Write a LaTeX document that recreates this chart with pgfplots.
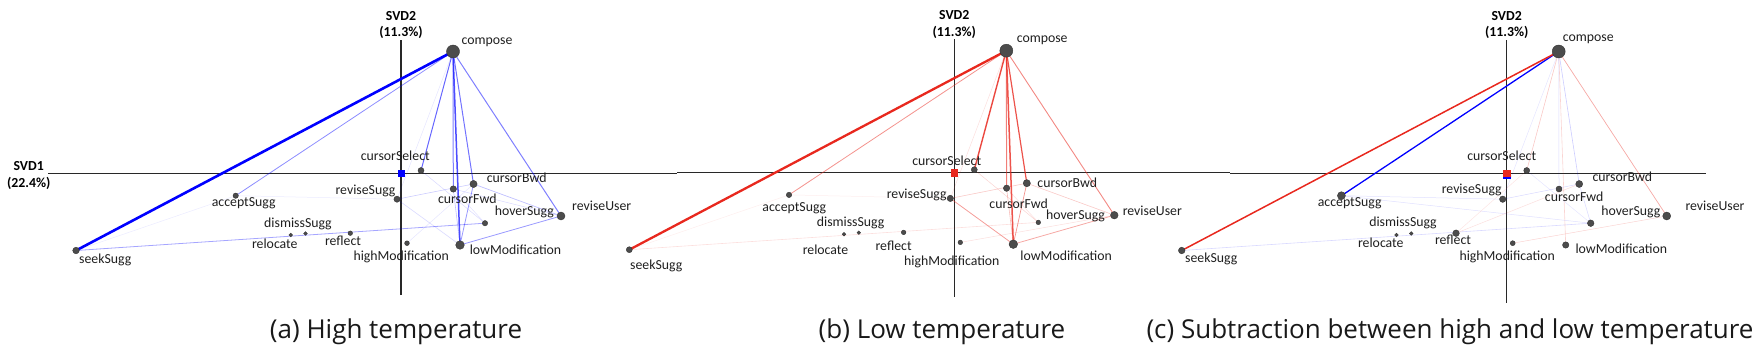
\documentclass[border=0pt]{standalone}
\usepackage{pgfplots}
\pgfplotsset{compat=1.18}
\usepackage{fontspec}
\setmainfont{Carlito}
\newfontfamily\capfont{Open Sans}
\definecolor{eblue}{RGB}{0,0,255}
\definecolor{ered}{RGB}{232,40,30}
\definecolor{dotfill}{RGB}{76,76,76}
\definecolor{dotedge}{RGB}{52,52,52}
\definecolor{axcol}{RGB}{40,40,40}

\pgfplotsset{
 panel/.style={hide axis, x=1pt, y=1pt, clip=false, anchor=south west},
 axl/.style={axcol, line width=1.2pt},
 pdot/.style={only marks, mark=*, mark size=#1, mark options={draw=dotedge, fill=dotfill, line width=0.4pt}},
 bl/.style={eblue, line cap=round},
 rd/.style={ered, line cap=round},
}
\tikzset{
 lbl/.style={font=\fontsize{13.8}{14}\selectfont, text=black!88, inner sep=0pt, text height=9.7pt, text depth=0pt, anchor=center},
 svd/.style={font=\fontsize{13.8}{14}\selectfont\bfseries, text=black, inner sep=0pt, text height=9.7pt, text depth=0pt, anchor=center},
 captxt/.style={font=\capfont\fontsize{26}{28}\selectfont, text=black!90, inner sep=0pt, anchor=base},
}

\begin{document}
\begin{tikzpicture}
\useasboundingbox (0pt,0pt) rectangle (1752pt,354pt);

% ---------------- Panel (a) ----------------
\begin{axis}[panel, at={(0pt,0pt)}, xmin=-401, xmax=276, ymin=-180.5, ymax=173.5]
\addplot[axl] coordinates {(-353,0) (276,0)};
\addplot[axl] coordinates {(0,-121.5) (0,133.5)};
% faint edges
\addplot[bl, line width=0.5pt, opacity=0.08] coordinates {(-325,-77) (-165.3,-22.2)};
\addplot[bl, line width=0.5pt, opacity=0.08] coordinates {(-165.3,-22.2) (-4,-25.7)};
\addplot[bl, line width=0.5pt, opacity=0.1] coordinates {(6,-69.7) (72.5,-10.5)};
\addplot[bl, line width=0.5pt, opacity=0.1] coordinates {(52,122) (-4,-25.7)};
\addplot[bl, line width=0.5pt, opacity=0.12] coordinates {(52.3,-15.5) (84,-49.7)};
\addplot[bl, line width=0.5pt, opacity=0.15] coordinates {(52.3,-15.5) (160,-42.5)};
\addplot[bl, line width=0.5pt, opacity=0.15] coordinates {(20,3) (84,-49.7)};
\addplot[bl, line width=0.6pt, opacity=0.15] coordinates {(-4,-25.7) (59,-71.5)};
\addplot[bl, line width=0.6pt, opacity=0.2] coordinates {(-4,-25.7) (72.5,-10.5)};
\addplot[bl, line width=0.7pt, opacity=0.25] coordinates {(72.5,-10.5) (160,-42.5)};
\addplot[bl, line width=0.6pt, opacity=0.25] coordinates {(52.3,-15.5) (59,-71.5)};
\addplot[bl, line width=0.8pt, opacity=0.4] coordinates {(72.5,-10.5) (59,-71.5)};
\addplot[bl, line width=0.8pt, opacity=0.35] coordinates {(-325,-77) (84,-49.7)};
\addplot[bl, line width=0.8pt, opacity=0.4] coordinates {(59,-71.5) (160,-42.5)};
% compose edges
\addplot[bl, line width=0.8pt, opacity=0.45] coordinates {(52,122) (-165.3,-22.2)};
\addplot[bl, line width=1pt, opacity=0.6] coordinates {(52,122) (20,3)};
\addplot[bl, line width=1pt, opacity=0.5] coordinates {(52,122) (52.3,-15.5)};
\addplot[bl, line width=1.5pt, opacity=0.7] coordinates {(52,122) (59,-71.5)};
\addplot[bl, line width=1pt, opacity=0.55] coordinates {(52,122) (72.5,-10.5)};
\addplot[bl, line width=1pt, opacity=0.5] coordinates {(52,122) (160,-42.5)};
\addplot[bl, line width=2.6pt] coordinates {(52,122) (-325,-77)};
% nodes
\addplot[pdot=6.5pt] coordinates {(52,122)};
\addplot[pdot=3pt] coordinates {(20,3)};
\addplot[pdot=3.6pt] coordinates {(72.5,-10.5)};
\addplot[pdot=3.2pt] coordinates {(52.3,-15.5)};
\addplot[pdot=3.1pt] coordinates {(-4,-25.7)};
\addplot[pdot=2.7pt] coordinates {(-165.3,-22.2)};
\addplot[pdot=2.7pt] coordinates {(84,-49.7)};
\addplot[pdot=4pt] coordinates {(160,-42.5)};
\addplot[pdot=1.9pt] coordinates {(-95.5,-60)};
\addplot[pdot=1.9pt] coordinates {(-110.3,-61.5)};
\addplot[pdot=2.3pt] coordinates {(-50.7,-59.7)};
\addplot[pdot=2.4pt] coordinates {(6,-69.7)};
\addplot[pdot=4.3pt] coordinates {(59,-71.5)};
\addplot[pdot=3.3pt] coordinates {(-325,-77)};
\addplot[only marks, mark=square*, mark size=3pt, color=eblue] coordinates {(0,0)};
% labels
\node[svd] at (0,157.8) {SVD2};
\node[svd] at (0,141.8) {(11.3\%)};
\node[svd] at (-372.3,7.8) {SVD1};
\node[svd] at (-372.3,-8.8) {(22.4\%)};
\node[lbl] at (86,133.5) {compose};
\node[lbl] at (-5.7,17.8) {cursorSelect};
\node[lbl] at (115.7,-3.8) {cursorBwd};
\node[lbl] at (-35.5,-15.8) {reviseSugg};
\node[lbl] at (66.3,-24.8) {cursorFwd};
\node[lbl] at (123.3,-37.5) {hoverSugg};
\node[lbl] at (200.7,-32.5) {reviseUser};
\node[lbl] at (114.5,-75.8) {lowModification};
\node[lbl] at (0.2,-82.2) {highModification};
\node[lbl] at (-58,-66.8) {reflect};
\node[lbl] at (-103,-48.8) {dismissSugg};
\node[lbl] at (-126.2,-69.8) {relocate};
\node[lbl] at (-157.3,-28.2) {acceptSugg};
\node[lbl] at (-295.8,-84.8) {seekSugg};
\node[captxt] at (-5,-164.8) {(a) High temperature};
\end{axis}

% ---------------- Panel (b) ----------------
\begin{axis}[panel, at={(677pt,0pt)}, xmin=-277.3, xmax=275.7, ymin=-181.3, ymax=172.7]
\addplot[axl] coordinates {(-277.3,0) (275.7,0)};
\addplot[axl] coordinates {(0,-124) (0,134)};
\addplot[rd, line width=0.5pt, opacity=0.08] coordinates {(-325,-77) (-165.3,-22.2)};
\addplot[rd, line width=0.5pt, opacity=0.08] coordinates {(-165.3,-22.2) (-4,-25.7)};
\addplot[rd, line width=0.5pt, opacity=0.15] coordinates {(52,122) (-4,-25.7)};
\addplot[rd, line width=0.5pt, opacity=0.15] coordinates {(6,-69.7) (160,-42.5)};
\addplot[rd, line width=0.5pt, opacity=0.15] coordinates {(52.3,-15.5) (84,-49.7)};
\addplot[rd, line width=0.5pt, opacity=0.2] coordinates {(20,3) (84,-49.7)};
\addplot[rd, line width=0.6pt, opacity=0.15] coordinates {(-325,-77) (84,-49.7)};
\addplot[rd, line width=0.6pt, opacity=0.25] coordinates {(72.5,-10.5) (160,-42.5)};
\addplot[rd, line width=0.6pt, opacity=0.25] coordinates {(-4,-25.7) (72.5,-10.5)};
\addplot[rd, line width=0.6pt, opacity=0.3] coordinates {(52.3,-15.5) (59,-71.5)};
\addplot[rd, line width=0.8pt, opacity=0.45] coordinates {(-4,-25.7) (59,-71.5)};
\addplot[rd, line width=0.8pt, opacity=0.4] coordinates {(59,-71.5) (160,-42.5)};
\addplot[rd, line width=0.7pt, opacity=0.5] coordinates {(72.5,-10.5) (59,-71.5)};
\addplot[rd, line width=0.8pt, opacity=0.5] coordinates {(52,122) (-165.3,-22.2)};
\addplot[rd, line width=1.4pt, opacity=0.85] coordinates {(52,122) (20,3)};
\addplot[rd, line width=1pt, opacity=0.6] coordinates {(52,122) (52.3,-15.5)};
\addplot[rd, line width=1.5pt, opacity=0.8] coordinates {(52,122) (59,-71.5)};
\addplot[rd, line width=1.2pt, opacity=0.8] coordinates {(52,122) (72.5,-10.5)};
\addplot[rd, line width=0.9pt, opacity=0.55] coordinates {(52,122) (160,-42.5)};
\addplot[rd, line width=2.3pt] coordinates {(52,122) (-325,-77)};
\addplot[pdot=6.5pt] coordinates {(52,122)};
\addplot[pdot=3pt] coordinates {(20,3)};
\addplot[pdot=3.6pt] coordinates {(72.5,-10.5)};
\addplot[pdot=3.2pt] coordinates {(52.3,-15.5)};
\addplot[pdot=3.2pt] coordinates {(-4,-25.7)};
\addplot[pdot=2.7pt] coordinates {(-165.3,-22.2)};
\addplot[pdot=2.3pt] coordinates {(84,-49.7)};
\addplot[pdot=3.8pt] coordinates {(160,-42.5)};
\addplot[pdot=1.8pt] coordinates {(-95.5,-60)};
\addplot[pdot=1.8pt] coordinates {(-110.3,-61.5)};
\addplot[pdot=2.3pt] coordinates {(-50.7,-59.7)};
\addplot[pdot=2.3pt] coordinates {(6,-69.7)};
\addplot[pdot=4.3pt] coordinates {(59,-71.5)};
\addplot[pdot=3pt] coordinates {(-325,-77)};
\addplot[only marks, mark=square*, mark size=3.3pt, color=ered] coordinates {(0,0)};
\node[svd] at (0,157.7) {SVD2};
\node[svd] at (0,140.7) {(11.3\%)};
\node[lbl] at (87.9,135.4) {compose};
\node[lbl] at (-7.6,12) {cursorSelect};
\node[lbl] at (113,-10) {cursorBwd};
\node[lbl] at (-37.6,-21.3) {reviseSugg};
\node[lbl] at (64.4,-31.3) {cursorFwd};
\node[lbl] at (121.2,-42.3) {hoverSugg};
\node[lbl] at (198,-38) {reviseUser};
\node[lbl] at (111.9,-83) {lowModification};
\node[lbl] at (-2.5,-88.3) {highModification};
\node[lbl] at (-60.7,-73) {reflect};
\node[lbl] at (-103.7,-49) {dismissSugg};
\node[lbl] at (-128.8,-76.6) {relocate};
\node[lbl] at (-160,-34) {acceptSugg};
\node[lbl] at (-298.1,-92.3) {seekSugg};
\node[captxt] at (-12.3,-165.6) {(b) Low temperature};
\end{axis}

% ---------------- Panel (c) ----------------
\begin{axis}[panel, at={(1230pt,0pt)}, xmin=-276.7, xmax=245.3, ymin=-180.5, ymax=173.5]
\addplot[axl] coordinates {(-276.7,0) (199,0)};
\addplot[axl] coordinates {(0,-129) (0,133.5)};
\addplot[bl, line width=0.5pt, opacity=0.1] coordinates {(52,122) (-4,-25.7)};
\addplot[bl, line width=0.6pt, opacity=0.15] coordinates {(-325,-77) (84,-49.7)};
\addplot[bl, line width=0.5pt, opacity=0.12] coordinates {(-165.3,-22.2) (84,-49.7)};
\addplot[bl, line width=0.5pt, opacity=0.12] coordinates {(-165.3,-22.2) (-4,-25.7)};
\addplot[bl, line width=0.5pt, opacity=0.15] coordinates {(-4,-25.7) (72.5,-10.5)};
\addplot[bl, line width=0.5pt, opacity=0.15] coordinates {(72.5,-10.5) (84,-49.7)};
\addplot[bl, line width=0.5pt, opacity=0.1] coordinates {(20,3) (84,-49.7)};
\addplot[rd, line width=0.5pt, opacity=0.2] coordinates {(6,-69.7) (160,-42.5)};
\addplot[rd, line width=0.5pt, opacity=0.15] coordinates {(-50.7,-59.7) (72.5,-10.5)};
\addplot[rd, line width=0.5pt, opacity=0.12] coordinates {(-50.7,-59.7) (20,3)};
\addplot[bl, line width=0.5pt, opacity=0.15] coordinates {(52,122) (52.3,-15.5)};
\addplot[bl, line width=0.6pt, opacity=0.2] coordinates {(52,122) (72.5,-10.5)};
\addplot[rd, line width=0.6pt, opacity=0.25] coordinates {(52,122) (20,3)};
\addplot[rd, line width=0.6pt, opacity=0.2] coordinates {(52,122) (59,-71.5)};
\addplot[rd, line width=0.7pt, opacity=0.4] coordinates {(52,122) (160,-42.5)};
\addplot[bl, line width=1.3pt] coordinates {(52,122) (-165.3,-22.2)};
\addplot[rd, line width=1.5pt] coordinates {(52,122) (-325,-77)};
\addplot[pdot=6.5pt] coordinates {(52,122)};
\addplot[pdot=3pt] coordinates {(20,3)};
\addplot[pdot=3.5pt] coordinates {(72.5,-10.5)};
\addplot[pdot=3pt] coordinates {(52.3,-15.5)};
\addplot[pdot=3.2pt] coordinates {(-4,-25.7)};
\addplot[pdot=4pt] coordinates {(-165.3,-22.2)};
\addplot[pdot=3.3pt] coordinates {(84,-49.7)};
\addplot[pdot=4pt] coordinates {(160,-42.5)};
\addplot[pdot=1.8pt] coordinates {(-95.5,-60)};
\addplot[pdot=1.8pt] coordinates {(-110.3,-61.5)};
\addplot[pdot=3.3pt] coordinates {(-50.7,-59.7)};
\addplot[pdot=2.5pt] coordinates {(6,-69.7)};
\addplot[pdot=3.2pt] coordinates {(59,-71.5)};
\addplot[pdot=3.3pt] coordinates {(-325,-77)};
\addplot[only marks, mark=square*, mark size=3.3pt, color=eblue] coordinates {(0,-1.5)};
\addplot[only marks, mark=square*, mark size=3.2pt, color=ered] coordinates {(0,0.3)};
\node[svd] at (0,158.3) {SVD2};
\node[svd] at (0,141.7) {(11.3\%)};
\node[lbl] at (81.6,136.7) {compose};
\node[lbl] at (-5,18.3) {cursorSelect};
\node[lbl] at (115.6,-3.3) {cursorBwd};
\node[lbl] at (-35,-15.3) {reviseSugg};
\node[lbl] at (67.5,-23.3) {cursorFwd};
\node[lbl] at (124.1,-37) {hoverSugg};
\node[lbl] at (208.3,-32) {reviseUser};
\node[lbl] at (114.6,-75.3) {lowModification};
\node[lbl] at (0.5,-81.7) {highModification};
\node[lbl] at (-53.7,-66.3) {reflect};
\node[lbl] at (-103.7,-47.7) {dismissSugg};
\node[lbl] at (-125.9,-69.3) {relocate};
\node[lbl] at (-157,-27.7) {acceptSugg};
\node[lbl] at (-295.5,-84.3) {seekSugg};
\node[captxt] at (-56.7,-164.8) {(c) Subtraction between high and low temperature};
\end{axis}
\end{tikzpicture}
\end{document}
